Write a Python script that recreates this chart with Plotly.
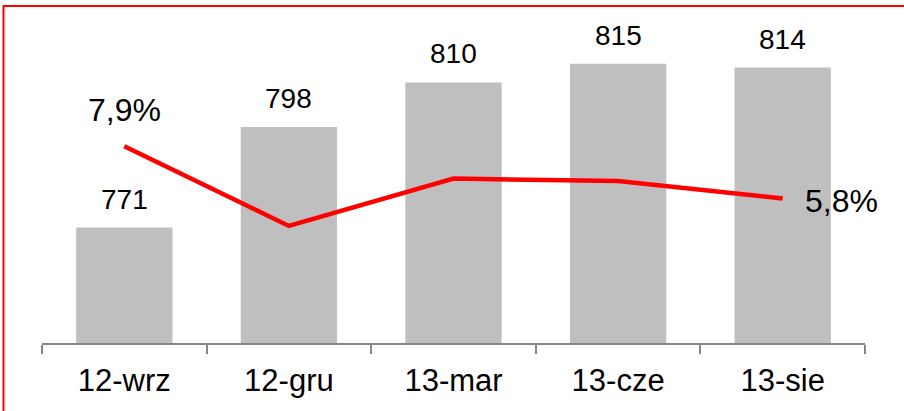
import plotly.graph_objects as go

categories = ["12-wrz", "12-gru", "13-mar", "13-cze", "13-sie"]
bar_values = [771, 798, 810, 815, 814]
pct_values = [7.9, 4.7, 6.6, 6.5, 5.8]
pct_labels = ["7,9%", "", "", "", "5,8%"]

FONT = "Liberation Sans, Arial, sans-serif"

fig = go.Figure()
fig.add_trace(go.Bar(
    x=categories, y=bar_values, marker_color="#BFBFBF",
    marker_line_width=0, yaxis="y", showlegend=False, hoverinfo="skip",
))
fig.add_trace(go.Scatter(
    x=categories, y=pct_values, mode="lines", yaxis="y2",
    line=dict(color="#FF0000", width=4.5), showlegend=False, hoverinfo="skip",
))

annotations = []
for c, v in zip(categories, bar_values):
    annotations.append(dict(
        x=c, y=v, xref="x", yref="y", text=str(v), showarrow=False,
        yanchor="bottom", yshift=11, font=dict(size=28, color="#000000", family=FONT),
    ))
for i, (c, v, t) in enumerate(zip(categories, pct_values, pct_labels)):
    if not t:
        continue
    if i == 0:
        annotations.append(dict(
            x=c, y=v, xref="x", yref="y2", text=t, showarrow=False,
            yanchor="bottom", yshift=16, font=dict(size=32, color="#000000", family=FONT),
        ))
    else:
        annotations.append(dict(
            x=c, y=v, xref="x", yref="y2", text=t, showarrow=False,
            xanchor="left", yanchor="middle", xshift=20, yshift=-2,
            font=dict(size=32, color="#000000", family=FONT),
        ))

# plot area: x 42..865, y 8..343 (px)
L, R, T, B = 42, 865, 8, 343
pw, ph = R - L, B - T
border = dict(
    type="rect", xref="paper", yref="paper",
    x0=(3.5 - L) / pw, x1=(907 - L) / pw,
    y0=(B - 414) / ph, y1=(B - 6) / ph,
    line=dict(color="#FF0000", width=2), fillcolor="rgba(0,0,0,0)", layer="above",
)

fig.update_layout(
    width=904, height=411,
    margin=dict(l=L, r=904 - R, t=T, b=411 - B),
    paper_bgcolor="white", plot_bgcolor="white",
    bargap=0.415,
    font=dict(family=FONT, color="#000000"),
    xaxis=dict(
        type="category", range=[-0.5, 4.5], showline=True, linecolor="#868686",
        linewidth=1.5, ticks="outside", tickson="boundaries", ticklen=9,
        tickcolor="#868686", tickwidth=1.5, showgrid=False,
        tickfont=dict(size=31, color="#000000", family=FONT),
        ticklabelstandoff=9,
    ),
    yaxis=dict(range=[740, 830], visible=False, showgrid=False),
    yaxis2=dict(range=[0, 13.45], overlaying="y", visible=False, showgrid=False),
    annotations=annotations,
    shapes=[border],
)

fig.write_html(
    "out.html",
    config={"displayModeBar": False},
    post_script="document.body.style.margin='0';document.body.style.padding='0';document.body.style.overflow='hidden';",
)
